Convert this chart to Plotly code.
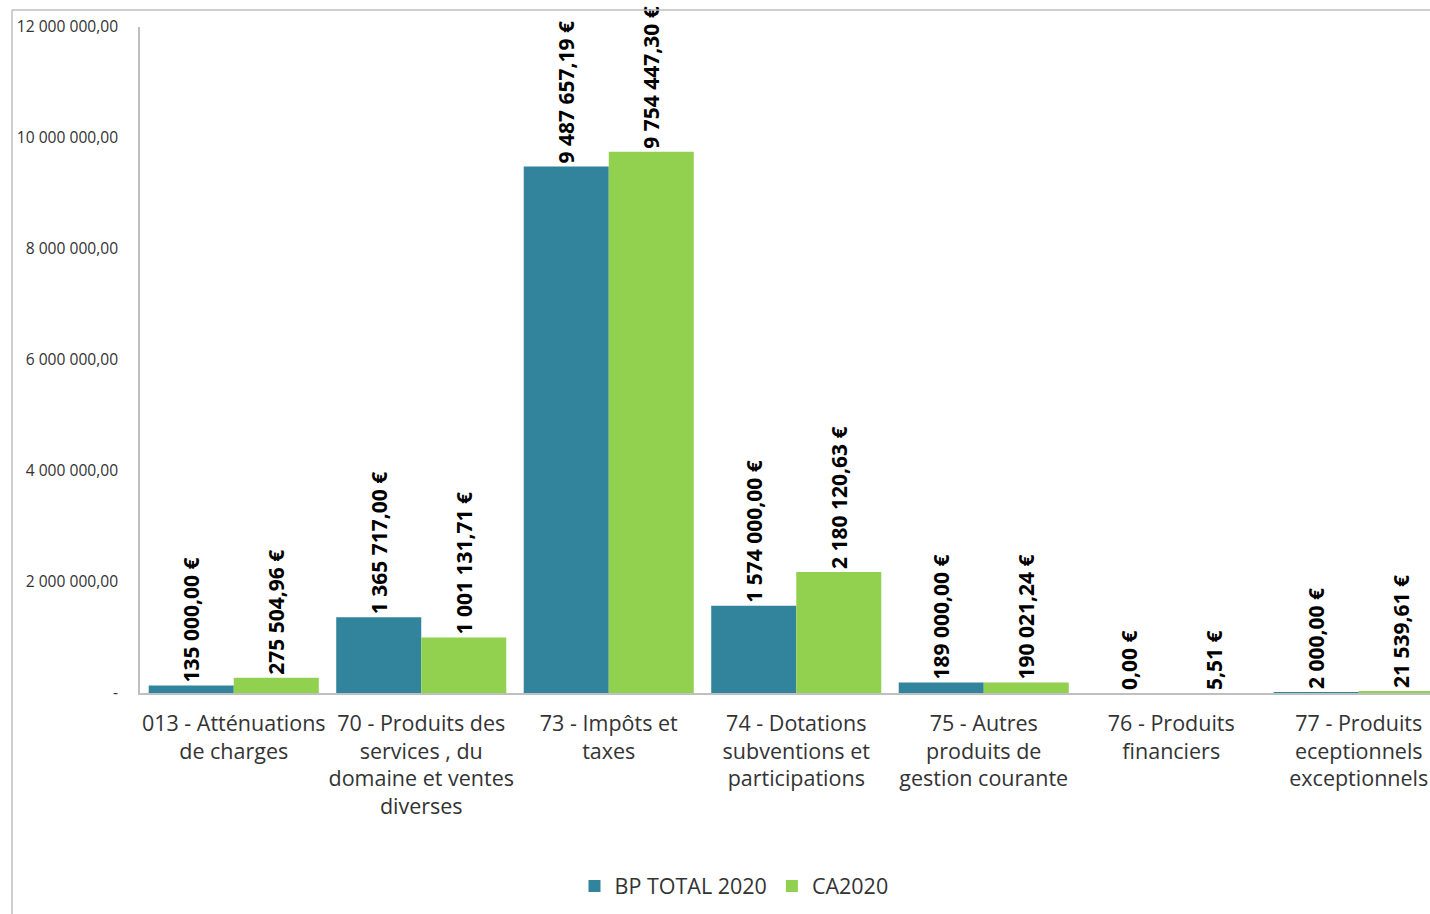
import plotly.graph_objects as go

categories = [
    "013 - Atténuations<br>de charges",
    "70 - Produits des<br>services , du<br>domaine et ventes<br>diverses",
    "73 - Impôts et<br>taxes",
    "74 - Dotations<br>subventions et<br>participations",
    "75 - Autres<br>produits de<br>gestion courante",
    "76 - Produits<br>financiers",
    "77 - Produits<br>eceptionnels<br>exceptionnels",
]
bp_total_2020 = [135000.00, 1365717.00, 9487657.19, 1574000.00, 189000.00, 0.00, 2000.00]
ca_2020 = [275504.96, 1001131.71, 9754447.30, 2180120.63, 190021.24, 5.51, 21539.61]
y_tick_values = [0, 2000000, 4000000, 6000000, 8000000, 10000000, 12000000]
y_tick_labels = ["-", "2 000 000,00", "4 000 000,00", "6 000 000,00",
                 "8 000 000,00", "10 000 000,00", "12 000 000,00"]


def euro(v):
    return f"{v:,.2f}".replace(",", " ").replace(".", ",") + " €"


label_font = dict(family="Open Sans", size=21, color="black", weight="bold")

fig = go.Figure()
fig.add_trace(go.Bar(
    name="BP TOTAL 2020", x=categories, y=bp_total_2020,
    marker=dict(color="#31849B", line=dict(width=0)),
    text=[euro(v) for v in bp_total_2020], textposition="outside",
    textangle=-90, textfont=label_font, cliponaxis=False, constraintext="none",
))
fig.add_trace(go.Bar(
    name="CA2020", x=categories, y=ca_2020,
    marker=dict(color="#92D050", line=dict(width=0)),
    text=[euro(v) for v in ca_2020], textposition="outside",
    textangle=-90, textfont=label_font, cliponaxis=False, constraintext="none",
))

W, H = 1430, 914
L = 140
T = 27
B = H - 693
R = 0
pw, ph = W - L - R, H - T - B


def px_x(sx):
    return (sx - L) / pw


def px_y(sy):
    return (T + ph - sy) / ph


group_px = 187.5

fig.update_layout(
    width=W, height=H,
    margin=dict(l=L, r=R, t=T, b=B, pad=0),
    paper_bgcolor="white", plot_bgcolor="white",
    barmode="group", bargap=0.093, bargroupgap=0,
    hovermode=False,
    font=dict(family="Open Sans", color="#333333"),
    legend=dict(orientation="h", x=px_x(734), xanchor="center",
                y=px_y(886), yanchor="middle",
                font=dict(size=21.5, color="#333333"),
                traceorder="normal"),
    xaxis=dict(
        range=[-0.5, -0.5 + pw / group_px],
        showline=True, linecolor="#BFBFBF", linewidth=1.5,
        ticks="outside", ticklen=10, tickcolor="rgba(0,0,0,0)",
        tickfont=dict(size=21.5, color="#333333"),
        tickangle=0, showgrid=False, zeroline=False,
    ),
    yaxis=dict(
        range=[0, 12000000],
        tickvals=y_tick_values, ticktext=y_tick_labels,
        showline=True, linecolor="#BFBFBF", linewidth=1.5,
        ticks="outside", ticklen=17, tickcolor="rgba(0,0,0,0)",
        tickfont=dict(size=15.6, color="#333333"),
        showgrid=False, zeroline=False,
    ),
    shapes=[
        dict(type="line", xref="paper", yref="paper",
             x0=px_x(12), x1=px_x(12), y0=px_y(10), y1=px_y(930),
             line=dict(color="#BFBFBF", width=1.5)),
        dict(type="line", xref="paper", yref="paper",
             x0=px_x(12), x1=1.0, y0=px_y(10), y1=px_y(10),
             line=dict(color="#BFBFBF", width=1.5)),
    ],
)

fig.write_html(
    "out.html",
    config={"displayModeBar": False},
    post_script="document.body.style.margin='0';"
                "document.documentElement.style.overflow='hidden';"
                "document.body.style.overflow='hidden';",
)
